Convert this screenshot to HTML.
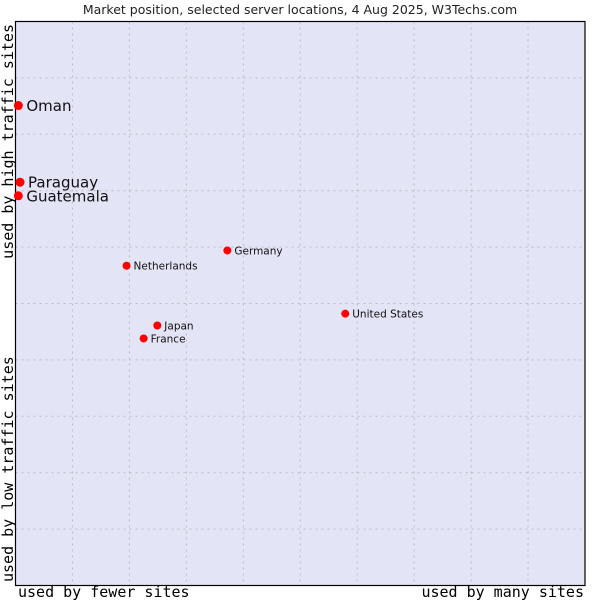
<!DOCTYPE html>
<html><head><meta charset="utf-8"><style>
html,body{margin:0;padding:0;background:#fff;}
svg text{font-family:"DejaVu Sans","Liberation Sans",sans-serif;}
.mono{font-family:"DejaVu Sans Mono","Liberation Mono",monospace !important;}
</style></head><body>
<svg id="chart" width="600" height="600" xmlns="http://www.w3.org/2000/svg">
<text x="300" y="14" font-size="12.5" text-anchor="middle" fill="#222">Market position, selected server locations, 4 Aug 2025, W3Techs.com</text>
<rect x="15.5" y="21.5" width="569.5" height="564" fill="#e4e4f7"/>
<g id="grid"></g>
<rect x="15.5" y="21.5" width="569.5" height="564" fill="none" stroke="#000" stroke-width="1.2"/>
<g id="points"></g>
<text class="mono" x="18" y="597" font-size="15" fill="#000">used by fewer sites</text>
<text class="mono" x="584" y="597" text-anchor="end" font-size="15" fill="#000">used by many sites</text>
<text class="mono" transform="translate(13,582) rotate(-90)" font-size="15" fill="#000">used by low traffic sites</text>
<text class="mono" transform="translate(13,24) rotate(-90)" text-anchor="end" font-size="15" fill="#000">used by high traffic sites</text>
</svg>
<script>
const countries = ["Oman","Paraguay","Guatemala","Germany","Netherlands","United States","Japan","France"];
const xValues = [0.5, 0.8, 0.5, 37.2, 19.5, 57.9, 24.9, 22.5];
const yValues = [85.1, 71.5, 69.1, 59.4, 56.7, 48.2, 46.1, 43.8];
const largeLabel = [true, true, true, false, false, false, false, false];
const gridSteps = [1,2,3,4,5,6,7,8,9];

const L=15.5, T=21.5, W=569.5, H=564;
const NS="http://www.w3.org/2000/svg";
function xs(v){return L + v/100*W;}
function ys(v){return T + H - v/100*H;}

const grid=document.getElementById('grid');
gridSteps.forEach(s=>{
  const v=document.createElementNS(NS,'line');
  v.setAttribute('x1',xs(s*10));v.setAttribute('x2',xs(s*10));
  v.setAttribute('y1',T);v.setAttribute('y2',T+H);
  v.setAttribute('stroke','#bcbcbc');v.setAttribute('stroke-dasharray','2,4');
  
  
  grid.appendChild(v);
  const h=document.createElementNS(NS,'line');
  h.setAttribute('y1',ys(s*10));h.setAttribute('y2',ys(s*10));
  h.setAttribute('x1',L);h.setAttribute('x2',L+W);
  h.setAttribute('stroke','#bcbcbc');h.setAttribute('stroke-dasharray','2,4');
  
  
  grid.appendChild(h);
});

const pts=document.getElementById('points');
countries.forEach((c,i)=>{
  const cx=xs(xValues[i]), cy=ys(yValues[i]);
  const d=document.createElementNS(NS,'circle');
  d.setAttribute('cx',cx);d.setAttribute('cy',cy);d.setAttribute('r',largeLabel[i]?4.5:4);
  d.setAttribute('fill','#f00');
  
  
  pts.appendChild(d);
  const t=document.createElementNS(NS,'text');
  t.setAttribute('x',cx+(largeLabel[i]?8:7));
  t.setAttribute('y',cy+(largeLabel[i]?5.5:3.8));
  t.setAttribute('font-size',largeLabel[i]?'15':'10.5');
  t.setAttribute('fill','#111');
  t.textContent=c;
  
  
  pts.appendChild(t);
});
</script>
</body></html>
